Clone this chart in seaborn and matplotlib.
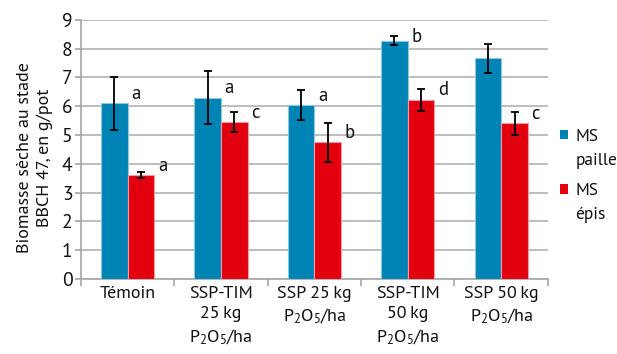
import matplotlib
matplotlib.use("Agg")
import matplotlib.pyplot as plt
from matplotlib import font_manager as fm
import seaborn as sns
import pandas as pd
import numpy as np

categories = ["Témoin", "SSP-TIM\n25\u2009kg\nP$_2$O$_5$/ha", "SSP 25\u2009kg\nP$_2$O$_5$/ha",
              "SSP-TIM\n50\u2009kg\nP$_2$O$_5$/ha", "SSP 50\u2009kg\nP$_2$O$_5$/ha"]
series = ["MS paille", "MS épis"]
legend_line1 = ["MS", "MS"]
legend_line2 = ["paille", "épis"]
paille = [6.1, 6.3, 6.03, 8.28, 7.66]
paille_err = [0.93, 0.93, 0.52, 0.16, 0.5]
epis = [3.62, 5.45, 4.74, 6.23, 5.4]
epis_err = [0.11, 0.36, 0.69, 0.38, 0.4]
paille_letters = ["a", "a", "a", "b", ""]
epis_letters = ["a", "c", "b", "d", "c"]
colors = ["#0083B5", "#E2000F"]
edgecolors = ["#8CC8E0", "#F49AA0"]

df = pd.DataFrame({
    "cat": categories * 2,
    "serie": [series[0]] * 5 + [series[1]] * 5,
    "val": paille + epis,
})

sns.set_theme(style="white")
static = {}
for f in fm.fontManager.ttflist:
    if "[" in f.fname or "Variable" in f.fname:
        continue
    if f.weight in (400, "normal", "regular") and f.style == "normal":
        static.setdefault(f.name, f.fname)
main_font = "Open Sans"
for cand in ["Myriad Pro", "Source Sans Pro", "Source Sans 3", "PT Sans", "Fira Sans", "Open Sans"]:
    if cand in static:
        main_font = cand
        break
plt.rcParams["font.family"] = [main_font, "DejaVu Sans"]
plt.rcParams["font.weight"] = "normal"
plt.rcParams["mathtext.fontset"] = "custom"
plt.rcParams["mathtext.rm"] = main_font
plt.rcParams["mathtext.it"] = main_font
plt.rcParams["mathtext.default"] = "regular"
TXT = "#111111"

fig = plt.figure(figsize=(6.17, 3.54), dpi=100)
ax = fig.add_axes([0.131, 0.212, 0.757, 0.732])

sns.barplot(data=df, x="cat", y="val", hue="serie", palette=colors,
            width=0.57, errorbar=None, ax=ax, saturation=1, zorder=3)

errs = [paille_err, epis_err]
vals = [paille, epis]
letters = [paille_letters, epis_letters]
bar_conts = list(ax.containers)
for k, cont in enumerate(bar_conts):
    for i, p in enumerate(cont.patches):
        p.set_edgecolor(edgecolors[k])
        p.set_linewidth(0.8)
        xc = p.get_x() + p.get_width() / 2
        ax.errorbar(xc, vals[k][i], yerr=errs[k][i], fmt="none", ecolor="black",
                    elinewidth=1.3, capsize=3, capthick=1.3, zorder=4)
        if letters[k][i]:
            ax.text(p.get_x() + p.get_width() + 0.04, min(vals[k][i] + 0.32, 8.4),
                    letters[k][i], ha="left", va="center", fontsize=13.5,
                    color=TXT, zorder=5)

ax.set_ylim(0, 9)
ax.set_xlim(-0.5, 4.5)
ax.set_yticks(range(0, 10))
ax.yaxis.grid(True, color="#BDBDBD", linewidth=1.4, zorder=0)
ax.set_axisbelow(True)
ax.set_xlabel("")
ax.set_ylabel("Biomasse sèche au stade\nBBCH 47, en g/pot", fontsize=13, color=TXT,
              linespacing=1.3)
ax.yaxis.set_label_coords(-0.060, 0.467)
for s in ["top", "right"]:
    ax.spines[s].set_visible(False)
for s in ["left", "bottom"]:
    ax.spines[s].set_color("#A6A6A6")
    ax.spines[s].set_linewidth(1.2)

ax.set_xticks(np.arange(-0.5, 5, 1), minor=True)
ax.tick_params(axis="x", which="major", length=0, labelsize=13, labelcolor=TXT, pad=5)
ax.tick_params(axis="x", which="minor", length=5, color="#A6A6A6", width=1.2, direction="out", bottom=True)
ax.tick_params(axis="y", length=4, color="#A6A6A6", width=1.2, direction="out",
               labelsize=14, labelcolor=TXT, left=True, pad=2)
for lbl in ax.get_xticklabels():
    lbl.set_linespacing(1.35)

handles, _ = ax.get_legend_handles_labels()
ax.get_legend().remove()
leg = fig.legend(handles, legend_line1, loc="upper left",
                 bbox_to_anchor=(560 / 617, 1 - 129 / 354), frameon=False,
                 fontsize=12.5, handlelength=0.45, handleheight=0.45, handletextpad=0.45,
                 labelspacing=2.2, borderaxespad=0, borderpad=0)
for h in leg.legend_handles:
    h.set_edgecolor("none")
for t in leg.get_texts():
    t.set_color(TXT)

fig.canvas.draw()
inv = fig.transFigure.inverted()
for t, line2 in zip(leg.get_texts(), legend_line2):
    bb = t.get_window_extent()
    x0, _ = inv.transform((bb.x0, 0))
    yc = (bb.y0 + bb.y1) / 2 - 24
    _, yf = inv.transform((0, yc))
    fig.text(x0, yf, line2, ha="left", va="center", fontsize=12.5, color=TXT)

fig.savefig("out.png", dpi=100)
